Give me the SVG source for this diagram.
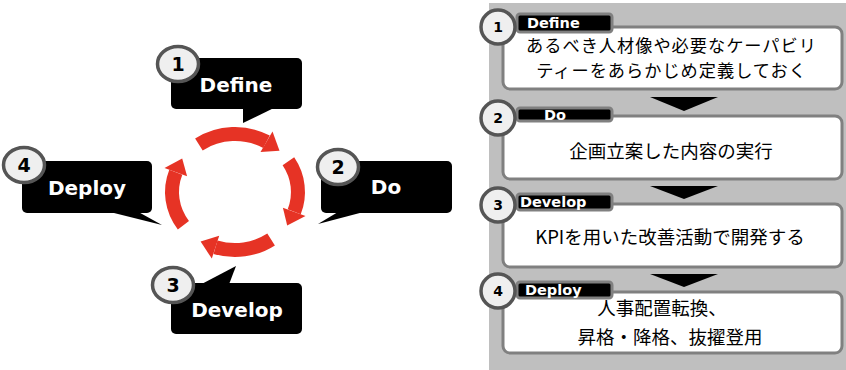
<svg xmlns="http://www.w3.org/2000/svg" width="846" height="370" viewBox="0 0 846 370">
<style>
.callout{fill:#000}
.ctext{font-family:"DejaVu Sans",Verdana,sans-serif;font-weight:bold;font-size:20px;fill:#fff;text-anchor:middle}
.num{fill:#efefef;stroke:#555;stroke-width:3.5}
.numt{font-family:"DejaVu Sans",Verdana,sans-serif;font-weight:bold;font-size:19px;fill:#000;text-anchor:middle}
.numt2{font-family:"DejaVu Sans",Verdana,sans-serif;font-weight:bold;font-size:14px;fill:#000;text-anchor:middle}
.arc{fill:none;stroke:#e63325;stroke-width:14}
.head{fill:#e63325}
.box{fill:#fff;stroke:#808080;stroke-width:3}
.tab{fill:#000;stroke:#808080;stroke-width:3}
.tabt{font-family:"DejaVu Sans",Verdana,sans-serif;font-weight:bold;font-size:14.5px;fill:#fff}
.jt{font-family:"Noto Sans CJK JP","Noto Sans CJK SC",sans-serif;font-size:18.5px;fill:#000;text-anchor:middle}
.jt2{font-size:17.2px;letter-spacing:1px}
.down{fill:#000}
</style>
<rect x="489" y="3" width="357" height="367" fill="#bfbfbf"/>
<g id="cycle">
<path class="arc" d="M198.9,144.5 A63,58 0 0 1 266.5,141.8"/>
<polygon class="head" points="260.5,152.1 272.5,131.4 279.5,150.8"/>
<path class="arc" d="M288.4,161.3 A63,58 0 0 1 294.2,211.8"/>
<polygon class="head" points="282.9,207.7 305.5,216.0 287.2,225.4"/>
<path class="arc" d="M271.1,239.5 A63,58 0 0 1 215.5,247.2"/>
<polygon class="head" points="219.2,235.8 211.8,258.6 200.6,241.6"/>
<path class="arc" d="M183.4,225.3 A63,58 0 0 1 175.8,172.2"/>
<polygon class="head" points="187.1,176.3 164.5,168.0 182.2,158.6"/>
</g>
<g id="define">
<polygon class="callout" points="243,105 280,105 243,123"/>
<rect class="callout" x="171" y="58" width="131" height="51" rx="5"/>
<text class="ctext" x="236" y="92">Define</text>
<ellipse class="num" cx="178" cy="64" rx="20.5" ry="17.5"/>
<text class="numt" x="178" y="71">1</text>
</g>
<g id="do">
<polygon class="callout" points="343,209 375,209 318,224"/>
<rect class="callout" x="321" y="161" width="131" height="52" rx="5"/>
<text class="ctext" x="386" y="194">Do</text>
<ellipse class="num" cx="338" cy="167" rx="20.5" ry="17.5"/>
<text class="numt" x="338" y="174">2</text>
</g>
<g id="develop">
<polygon class="callout" points="196,287 228,287 236,266"/>
<rect class="callout" x="171" y="283" width="131" height="51" rx="5"/>
<text class="ctext" x="237" y="317">Develop</text>
<ellipse class="num" cx="173" cy="285" rx="20.5" ry="17.5"/>
<text class="numt" x="173" y="292">3</text>
</g>
<g id="deploy">
<polygon class="callout" points="98,209 133,209 162,225"/>
<rect class="callout" x="22" y="161" width="130" height="52" rx="5"/>
<text class="ctext" x="87" y="195">Deploy</text>
<ellipse class="num" cx="24" cy="165" rx="20.5" ry="17.5"/>
<text class="numt" x="24" y="172">4</text>
</g>
<g id="step1">
<rect class="box" x="503" y="27" width="339" height="62" rx="7"/>
<rect class="tab" x="517" y="14" width="95" height="18" rx="3"/>
<text class="tabt" x="527" y="27.5">Define</text>
<circle class="num" cx="498" cy="27" r="17"/>
<text class="numt2" x="498" y="32">1</text>
<text class="jt jt2" x="671.5" y="52">あるべき人材像や必要なケーパビリ</text>
<text class="jt jt2" x="671.5" y="77">ティーをあらかじめ定義しておく</text>
</g>
<g id="step2">
<rect class="box" x="503" y="116" width="339" height="63" rx="7"/>
<rect class="tab" x="517" y="108" width="95" height="13" rx="3"/>
<text class="tabt" x="544" y="120">Do</text>
<circle class="num" cx="498" cy="118" r="17"/>
<text class="numt2" x="498" y="123">2</text>
<text class="jt" x="671" y="158">企画立案した内容の実行</text>
</g>
<g id="step3">
<rect class="box" x="503" y="204" width="339" height="63" rx="7"/>
<rect class="tab" x="517" y="194" width="95" height="16" rx="3"/>
<text class="tabt" x="520" y="207">Develop</text>
<circle class="num" cx="498" cy="205" r="17"/>
<text class="numt2" x="498" y="210">3</text>
<text class="jt" x="670" y="244">KPIを用いた改善活動で開発する</text>
</g>
<g id="step4">
<rect class="box" x="503" y="292" width="339" height="61" rx="7"/>
<rect class="tab" x="517" y="282" width="95" height="16" rx="3"/>
<text class="tabt" x="525" y="295">Deploy</text>
<circle class="num" cx="498" cy="291" r="17"/>
<text class="numt2" x="498" y="296">4</text>
<text class="jt" x="662" y="315">人事配置転換、</text>
<text class="jt" x="670" y="344">昇格・降格、抜擢登用</text>
</g>
<g id="connectors">
<polygon class="down" points="650,97 718,97 684,111"/>
<polygon class="down" points="650,186 718,186 684,199"/>
<polygon class="down" points="650,274 718,274 684,287"/>
</g>
</svg>
